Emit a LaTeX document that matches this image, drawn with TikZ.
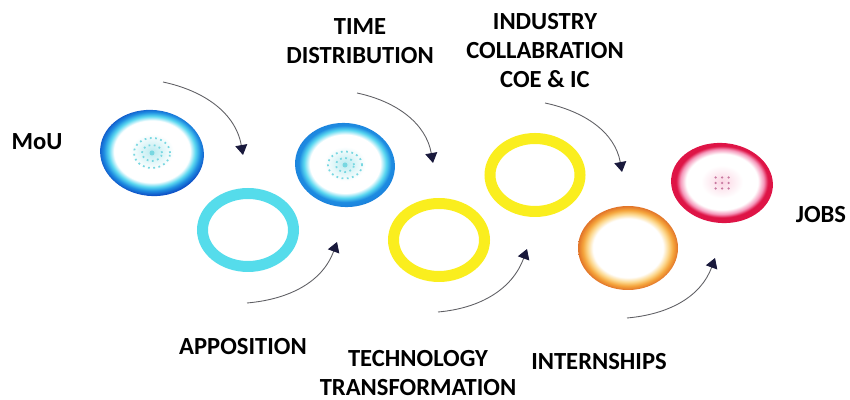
\documentclass[tikz,border=0pt]{standalone}
\usepackage{fontspec}
\setmainfont{Carlito}
\usepackage{xcolor}
\usetikzlibrary{calc, arrows.meta}

\definecolor{blueD}{RGB}{15,85,200}
\definecolor{blueM}{RGB}{30,140,225}
\definecolor{cyanL}{RGB}{90,215,240}
\definecolor{speckB}{RGB}{120,215,225}
\definecolor{ringC}{RGB}{85,220,235}
\definecolor{ringY}{RGB}{250,238,30}
\definecolor{orangeD}{RGB}{225,115,40}
\definecolor{orangeM}{RGB}{245,165,60}
\definecolor{orangeL}{RGB}{252,215,140}
\definecolor{redD}{RGB}{222,20,70}
\definecolor{pinkL}{RGB}{245,150,185}
\definecolor{speckR}{RGB}{200,120,160}
\definecolor{headC}{RGB}{25,25,60}
\definecolor{lineC}{RGB}{95,95,100}

\pgfdeclareradialshading{blueone}{\pgfpoint{0bp}{0bp}}{color(0bp)=(speckB!50!white); color(10bp)=(white); color(17.5bp)=(white); color(20bp)=(cyanL); color(22.3bp)=(blueM); color(24.5bp)=(blueD); color(50bp)=(blueD)}
\pgfdeclareradialshading{bluetwo}{\pgfpoint{0bp}{0bp}}{color(0bp)=(speckB!50!white); color(10bp)=(white); color(17bp)=(white); color(19.8bp)=(cyanL); color(22.3bp)=(blueM); color(25bp)=(blueM!80!blueD); color(50bp)=(blueM!80!blueD)}
\pgfdeclareradialshading{orangering}{\pgfpoint{0bp}{0bp}}{color(0bp)=(white); color(17.5bp)=(white); color(20.3bp)=(orangeL); color(22.6bp)=(orangeM); color(25bp)=(orangeD); color(50bp)=(orangeD)}
\pgfdeclareradialshading{redring}{\pgfpoint{0bp}{0bp}}{color(0bp)=(pinkL!40!white); color(10bp)=(white); color(17bp)=(white); color(19.8bp)=(pinkL); color(21.8bp)=(redD); color(25bp)=(redD); color(50bp)=(redD)}

\tikzset{
  label/.style={font=\fontsize{14}{16.5}\selectfont\bfseries, align=center, text=black},
  flow/.style={lineC, line width=0.5pt, -{Triangle[length=0.2cm, width=0.24cm, color=headC]}},
  flatring/.style={line width=0.22cm}
}

\begin{document}
\begin{tikzpicture}
  \useasboundingbox (0,0) rectangle (17,8);
  \def\rx{1.0}
  \def\ry{0.84}

  % centres of the rings
  \coordinate (mou) at (3.04,4.94);
  \coordinate (appo) at (4.96,3.40);
  \coordinate (time) at (6.90,4.70);
  \coordinate (tech) at (8.78,3.20);
  \coordinate (indu) at (10.70,4.50);
  \coordinate (intern) at (12.56,3.04);
  \coordinate (jobs) at (14.44,4.34);

  % rings
  \shade[shading=blueone, rotate around={-6:(mou)}] (mou) ellipse [x radius=1.04, y radius=0.86];
  \draw[speckB, dotted, line width=1pt] (mou) ellipse [x radius=0.36, y radius=0.3];
  \draw[speckB, dotted, line width=1pt] (mou) ellipse [x radius=0.2, y radius=0.16];
  \fill[speckB] (mou) circle (0.05);

  \draw[ringC, flatring] (appo) ellipse [x radius=0.91, y radius=0.73];

  \shade[shading=bluetwo, rotate around={-5:(time)}] (time) ellipse [x radius=\rx, y radius=\ry];
  \draw[speckB, dotted, line width=1pt] (time) ellipse [x radius=0.34, y radius=0.27];
  \draw[speckB, dotted, line width=1pt] (time) ellipse [x radius=0.18, y radius=0.14];
  \fill[speckB] (time) circle (0.05);

  \draw[ringY, flatring] (tech) ellipse [x radius=0.91, y radius=0.73];
  \draw[ringY, flatring] (indu) ellipse [x radius=0.9, y radius=0.73];

  \shade[shading=orangering] (intern) ellipse [x radius=\rx, y radius=\ry];

  \shade[shading=redring, rotate around={-5:(jobs)}] (jobs) ellipse [x radius=1.02, y radius=0.8];
  \foreach \i in {-1,0,1} {
    \foreach \j in {-1,0,1} {
      \fill[speckR] ($(jobs)+(0.13*\i,0.11*\j)$) circle (0.025);
    }
  }

  % labels
  \node[label] (lmou) at (0.74,5.16) {MoU};
  \node[label] (lappo) at (4.86,1.06) {APPOSITION};
  \node[label] (ltime) at (7.2,7.18) {TIME\\DISTRIBUTION};
  \node[label] (lindu) at (10.9,6.98) {INDUSTRY\\COLLABRATION\\COE \& IC};
  \node[label] (ltech) at (8.36,0.54) {TECHNOLOGY\\TRANSFORMATION};
  \node[label] (lintern) at (11.98,0.76) {INTERNSHIPS};
  \node[label] (ljobs) at (16.42,3.70) {JOBS};

  % curved arrows
  \coordinate (t1s) at (3.26,6.36);  \coordinate (t1e) at (4.86,4.90);
  \coordinate (b1s) at (4.94,1.94);  \coordinate (b1e) at (6.74,3.16);
  \coordinate (t2s) at (7.14,6.14);  \coordinate (t2e) at (8.66,4.74);
  \coordinate (b2s) at (8.76,1.76);  \coordinate (b2e) at (10.54,3.02);
  \coordinate (t3s) at (10.90,5.94); \coordinate (t3e) at (12.44,4.56);
  \coordinate (b3s) at (12.54,1.64); \coordinate (b3e) at (14.30,2.84);

  \draw[flow] (t1s) to[out=-12, in=100] (t1e);
  \draw[flow] (t2s) to[out=-12, in=100] (t2e);
  \draw[flow] (t3s) to[out=-12, in=100] (t3e);
  \draw[flow] (b1s) to[out=5, in=-110] (b1e);
  \draw[flow] (b2s) to[out=5, in=-110] (b2e);
  \draw[flow] (b3s) to[out=5, in=-110] (b3e);
\end{tikzpicture}
\end{document}
